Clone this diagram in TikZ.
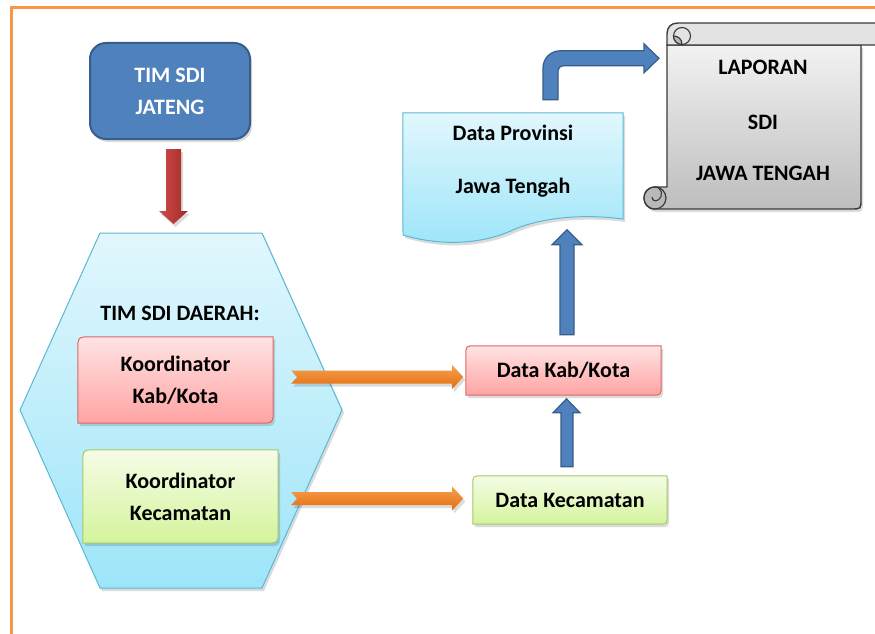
\documentclass[tikz,border=0pt]{standalone}
\usepackage{fontspec}
\setmainfont{Carlito}
\usetikzlibrary{calc,shadows}
\pgfdeclarelayer{back}
\pgfdeclarelayer{mid}
\pgfsetlayers{back,mid,main}
\definecolor{frameor}{HTML}{F79646}
\definecolor{jblue}{HTML}{4F81BD}
\definecolor{jbluedark}{HTML}{385D8A}
\definecolor{redl}{HTML}{D24B47}
\definecolor{redr}{HTML}{9E2B28}
\definecolor{cyantop}{HTML}{E2F7FD}
\definecolor{cyanbot}{HTML}{9DE5F9}
\definecolor{cyanline}{HTML}{5BB8D2}
\definecolor{pinktop}{HTML}{FFE3E3}
\definecolor{pinkbot}{HTML}{FFA3A3}
\definecolor{pinkline}{HTML}{D9696A}
\definecolor{greentop}{HTML}{F5FCE6}
\definecolor{greenbot}{HTML}{D4F49C}
\definecolor{greenline}{HTML}{A4C96A}
\definecolor{ortop}{HTML}{F6A050}
\definecolor{orbot}{HTML}{E36D0F}
\definecolor{scrolltop}{HTML}{F2F2F2}
\definecolor{scrollbot}{HTML}{BDBDBD}
\definecolor{scrollline}{HTML}{3A3A3A}
\tikzset{
  frame/.style={draw=frameor, line width=3pt},
  shadowed/.style={drop shadow={opacity=0.14, shadow xshift=2pt, shadow yshift=-3pt, fill=black}},
  txt/.style={align=center, inner sep=0pt},
  jatbox/.style={rounded corners=16pt, fill=jblue, draw=jbluedark, line width=2pt, text=white,
     align=center, minimum width=160pt, minimum height=96pt, shadowed},
  pinkbox/.style={top color=pinktop, bottom color=pinkbot, draw=pinkline, line width=1pt, shadowed},
  greenbox/.style={top color=greentop, bottom color=greenbot, draw=greenline, line width=1pt, shadowed},
  cyanshape/.style={top color=cyantop, bottom color=cyanbot, draw=cyanline, line width=1pt, shadowed},
  bluearrow/.style={fill=jblue, draw=jbluedark, line width=1.2pt},
  orangearrow/.style={top color=ortop, bottom color=orbot, shadowed},
  redarrow/.style={left color=redl, right color=redr, shadowed},
  scrollbody/.style={top color=scrolltop, bottom color=scrollbot, draw=scrollline, line width=1.4pt},
  scrollroll/.style={fill=scrolltop!94!black, draw=scrollline, line width=1.4pt},
  curl/.style={fill=gray!55, draw=scrollline, line width=1.2pt}
}
\newcommand\diagrect[3]{%
  \path[#3] ($(#1.north west)+(0,#2)$) .. controls (#1.north west) .. ($(#1.north west)+(#2,0)$)
    -- (#1.north east) -- ($(#1.south east)+(0,-#2)$) .. controls (#1.south east) .. ($(#1.south east)+(-#2,0)$)
    -- (#1.south west) -- cycle;}
\begin{document}
\begin{tikzpicture}[x=1pt, y=-1pt, font=\bfseries\fontsize{22}{32}\selectfont]
\useasboundingbox (0,0) rectangle (875,634);
% frame
\draw[frame] (11,640) -- (11,8) -- (880,8);

% top box
\node[jatbox] (jateng) at (170,91) {TIM SDI\\JATENG};

% hexagon
\begin{pgfonlayer}{back}
\path[cyanshape] (100,233) -- (262,233) -- (342,410) -- (262,588) -- (100,588) -- (20,410) -- cycle;
\end{pgfonlayer}
\coordinate (hextop) at (173.5,233);
\node[txt] (daerah) at (180,313) {TIM SDI DAERAH:};

% red arrow
\path[redarrow] ($(jateng.south)+(-4,9)$) -- ++(15,0) -- ++(0,62) -- ++(7,0) -- ++(-14.5,13)
   -- ++(-14.5,-13) -- ++(7,0) -- cycle;

% coordinator boxes
\node[txt, minimum width=195pt, minimum height=86pt] (kkab) at (175.5,380) {Koordinator\\Kab/Kota};
\node[txt, minimum width=195pt, minimum height=93pt] (kkec) at (180.5,496.5) {Koordinator\\Kecamatan};
\node[txt, minimum width=195pt, minimum height=49pt] (dkab) at (563.5,370.5) {Data Kab/Kota};
\node[txt, minimum width=194pt, minimum height=48pt] (dkec) at (570,500) {Data Kecamatan};
\begin{pgfonlayer}{mid}
\diagrect{kkab}{14}{pinkbox}
\diagrect{kkec}{14}{greenbox}
\diagrect{dkab}{10}{pinkbox}
\diagrect{dkec}{10}{greenbox}
\end{pgfonlayer}

% orange arrows
\path[orangearrow] ($(kkab.east)+(18,-9.5)$) -- ++(161,0) -- ++(0,-5.5) -- ++(11,12) -- ++(-11,12)
   -- ++(0,-5.5) -- ++(-161,0) -- ++(6,-6.5) -- cycle;
\path[orangearrow] ($(kkec.east)+(13,-4.5)$) -- ++(161,0) -- ++(0,-5.5) -- ++(11,12) -- ++(-11,12)
   -- ++(0,-5.5) -- ++(-161,0) -- ++(6,-6.5) -- cycle;

% blue up arrows
\path[bluearrow] ($(dkec.north)+(-9,-9)$) -- ++(0,-54) -- ++(-8,0) -- ++(13.5,-14) -- ++(13.5,14)
   -- ++(-7,0) -- ++(0,54) -- cycle;
\path[bluearrow] ($(dkab.north)+(-3.5,-11)$) -- ++(0,-90) -- ++(-8,0) -- ++(15,-15) -- ++(15,15)
   -- ++(-8,0) -- ++(0,90) -- cycle;

% Data Provinsi document
\node[txt, minimum width=220pt, minimum height=97pt] (dprov) at (513,161.5) {Data Provinsi\\[21pt]Jawa Tengah};
\begin{pgfonlayer}{mid}
\path[cyanshape] (dprov.north west) -- (dprov.north east) -- (623,219)
   .. controls (570,212) and (530,222) .. (513,230)
   .. controls (480,245) and (440,246) .. (403,235) -- cycle;
\end{pgfonlayer}

% bent arrow
\path[bluearrow] ($(dprov.north)+(30,-13)$) -- ++(0,-32)
   .. controls +(0,-9.4) and +(-9.4,0) .. ++(17,-17) -- ++(84,0) -- ++(0,-7) -- ++(15,14.5)
   -- ++(-15,14.5) -- ++(0,-7) -- ++(-81,0) .. controls +(-2.75,0) and +(0,-2.75) .. ++(-5,5)
   -- ++(0,29) -- cycle;

% scroll
\node[txt, minimum width=194pt, minimum height=164pt] (lap) at (763,120) {LAPORAN\\[23pt]SDI\\[19pt]JAWA TENGAH};
\begin{pgfonlayer}{mid}
\path[scrollbody, shadowed] (667,45) -- (861,45) -- (861,199) .. controls (861,209) .. (851,209)
   -- (655,209) .. controls (640.3,209) and (640.3,187) .. (655,187) -- (667,187) -- cycle;
\path[curl] (655,198) circle (11);
\path[draw=scrollline, line width=1.1pt] (655,187) .. controls (662,187) and (664,196) .. (658,200)
   .. controls (655,202) and (652,200) .. (652,197);
\path[scrollroll] (667,45) -- (667,34) .. controls (667,27) and (671,23) .. (678,23) -- (890,23)
   -- (890,45) -- cycle;
\path[fill=scrolltop!94!black, draw=scrollline, line width=1.1pt] (682,36) circle (8.5);
\path[curl] (682,44.5) .. controls (677,44.5) and (673.5,40.5) .. (673.5,36)
   .. controls (678,36) and (682,39) .. (682,44.5) -- cycle;
\end{pgfonlayer}
\coordinate (lapleft) at (661,58.5);
\end{tikzpicture}
\end{document}
